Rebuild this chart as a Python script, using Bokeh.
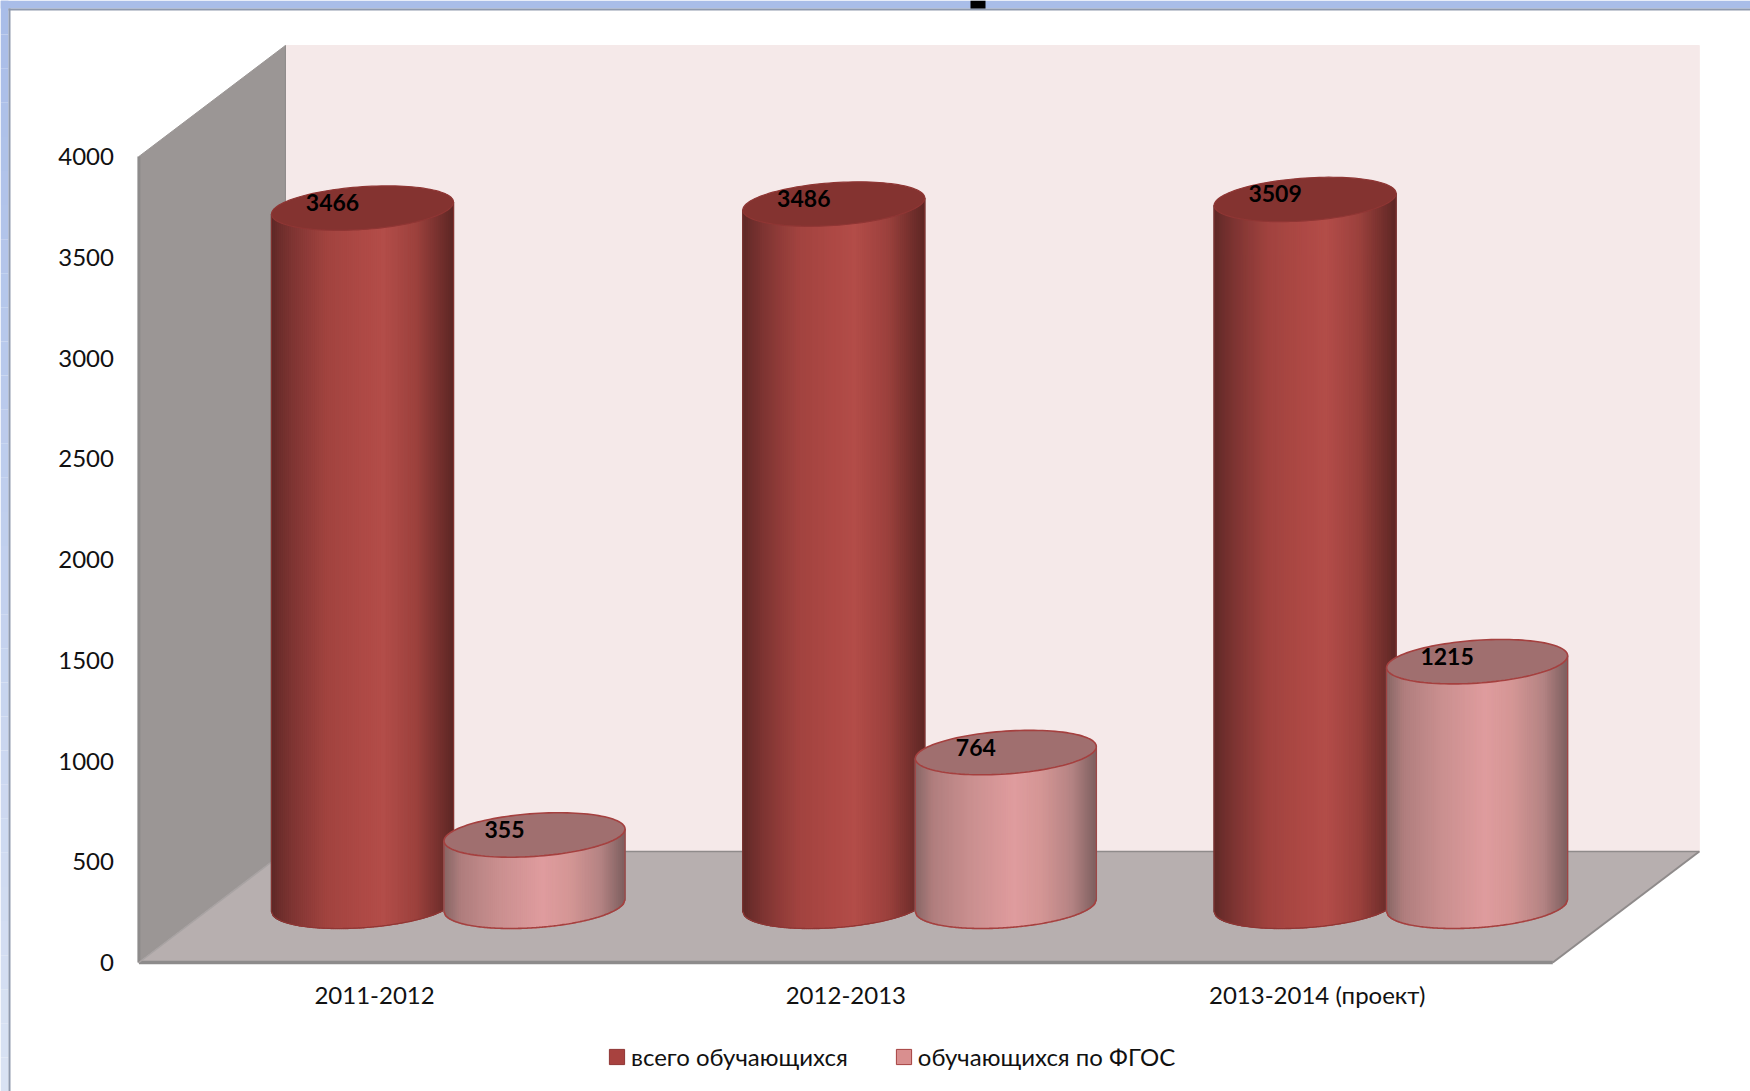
from bokeh.plotting import figure
from bokeh.models import Range1d, FixedTicker, Legend, LegendItem, BoxAnnotation
from bokeh.embed import file_html
from bokeh.resources import INLINE
from bokeh.core.properties import value
import numpy as np

# ---- data
categories = ["2011-2012", "2012-2013", "2013-2014 (проект)"]
total_students = [3466, 3486, 3509]
fgos_students = [355, 764, 1215]
series_names = ["всего обучающихся", "обучающихся по ФГОС"]
y_ticks = [0, 500, 1000, 1500, 2000, 2500, 3000, 3500, 4000]

# ---- layout (pixels of the page)
W, H = 1750, 1091
X0_PX, Y0_PX = 138.4, 962
GROUP_PX = 471.3
VALUE_PX = 0.2015
xu = 1 / GROUP_PX      # group units per pixel
yu = 1 / VALUE_PX      # value units per pixel
DEPTH_X, DEPTH_Y = 146.5 * xu, 111 * yu
Y_MAX = 4000
BASE_Y = 57 * yu       # cylinder base is set back on the floor
TOP_SHIFT = 1 * yu
RED_OFF, PINK_OFF = (362 - X0_PX) * xu, (534 - X0_PX) * xu
RED_A, PINK_A = 91, 90.5
ELL_B, ELL_B_TOP, ELL_C = 22.2, 21.4, 6.0

p = figure(width=W, height=H, output_backend="svg", toolbar_location=None,
           x_range=Range1d(-X0_PX * xu, (W - X0_PX) * xu),
           y_range=Range1d((Y0_PX - H) * yu, Y0_PX * yu),
           min_border_left=0, min_border_right=0, min_border_top=0, min_border_bottom=0,
           border_fill_color="white", background_fill_color="white", outline_line_color=None)
p.styles = {"position": "absolute", "left": "0px", "top": "0px"}
p.xgrid.visible = False
p.ygrid.visible = False

FONT = "Lato"
for ax in (p.xaxis[0], p.yaxis[0]):
    ax.fixed_location = 0
    ax.axis_line_color = None
    ax.major_tick_line_color = None
    ax.minor_tick_line_color = None
    ax.major_label_text_font = FONT
    ax.major_label_text_font_size = "24px"
    ax.major_label_text_color = "#111111"
p.yaxis[0].ticker = FixedTicker(ticks=y_ticks)
p.yaxis[0].major_label_standoff = 19
p.xaxis[0].ticker = FixedTicker(ticks=[i + 0.5 for i in range(len(categories))])
p.xaxis[0].major_label_overrides = {i + 0.5: c for i, c in enumerate(categories)}
p.xaxis[0].major_label_standoff = 11

# ---- walls and floor
n = len(categories)
p.patch([DEPTH_X, n + DEPTH_X, n + DEPTH_X, DEPTH_X],
        [DEPTH_Y, DEPTH_Y, Y_MAX + DEPTH_Y, Y_MAX + DEPTH_Y],
        fill_color="#f5e9e9", line_color="#f5e9e9")
p.patch([0, DEPTH_X, DEPTH_X, 0], [0, DEPTH_Y, Y_MAX + DEPTH_Y, Y_MAX],
        fill_color="#9b9695", line_color="#9b9695")
p.patch([0, n, n + DEPTH_X, DEPTH_X], [0, 0, DEPTH_Y, DEPTH_Y],
        fill_color="#b7afaf", line_color="#b7afaf")
p.line([0, 0], [0, Y_MAX], line_color="#8d8b8b", line_width=3)
p.line([0, n], [0, 0], line_color="#8d8b8b", line_width=3.5)
p.line([DEPTH_X, n + DEPTH_X], [DEPTH_Y, DEPTH_Y], line_color="#8f8b8b", line_width=1.5)
p.line([n, n + DEPTH_X], [0, DEPTH_Y], line_color="#8f8b8b", line_width=2)
p.line([0, DEPTH_X], [0, DEPTH_Y], line_color="#a8a3a3", line_width=1.5)
p.line([DEPTH_X, DEPTH_X], [DEPTH_Y, Y_MAX + DEPTH_Y], line_color="#908b8b", line_width=1)

# ---- cylinders
RED_STOPS = ([0, .05, .12, .3, .5, .62, .8, .93, 1],
             ["#5b2826", "#6d2e2c", "#7f3533", "#a1433f", "#ae4945", "#b34d49", "#9c413d", "#74302d", "#5e2725"])
PINK_STOPS = ([0, .1, .3, .55, .7, .87, 1],
              ["#866564", "#b07e7e", "#c98f8f", "#df9c9e", "#d49695", "#b48383", "#7e5f5f"])

def hex_rgb(h):
    return [int(h[i:i + 2], 16) for i in (1, 3, 5)]

def ramp(stops, t):
    pos, cols = stops
    rgb = np.array([hex_rgb(c) for c in cols])
    r = [int(round(np.interp(t, pos, rgb[:, k]))) for k in range(3)]
    return "#%02x%02x%02x" % tuple(r)

def cylinder(center, val, half_px, stops, top_color, edge, edge_w):
    a = half_px * xu
    b_base, b_top = BASE_Y, BASE_Y + val - TOP_SHIFT
    us = np.linspace(-1, 1, 92)
    xs, ys, cols = [], [], []
    low = lambda u: b_base - (ELL_B * np.sqrt(np.clip(1 - u * u, 0, 1)) - ELL_C * u) * yu
    high = lambda u: b_top + ELL_C * u * yu
    for u0, u1 in zip(us[:-1], us[1:]):
        xs.append([center + a * u0, center + a * u1, center + a * u1, center + a * u0])
        ys.append([low(u0), low(u1), high(u1), high(u0)])
        c = ramp(stops, (0.5 * (u0 + u1) + 1) / 2)
        cols.append(c)
    p.patches(xs, ys, fill_color=cols, line_color=cols, line_width=1.5)
    fine = np.linspace(-1, 1, 121)
    p.line(list(center + a * fine), list(low(fine)), line_color=edge, line_width=edge_w)
    p.line([center - a] * 2, [low(-1), high(-1)], line_color=edge, line_width=edge_w * 0.6)
    p.line([center + a] * 2, [low(1), high(1)], line_color=edge, line_width=edge_w * 0.6)
    t = np.linspace(0, 2 * np.pi, 121)
    ex = center + a * np.cos(t)
    ey = b_top - (ELL_B_TOP * np.sin(t) - ELL_C * np.cos(t)) * yu
    p.patch(list(ex), list(ey), fill_color=top_color, line_color=edge, line_width=edge_w)

LABEL_X, LABEL_Y = -30 * xu, 4.5 * yu
for i in range(n):
    cylinder(i + RED_OFF, total_students[i], RED_A, RED_STOPS, "#843330", "#8f3634", 1.2)
for i in range(n):
    cylinder(i + PINK_OFF, fgos_students[i], PINK_A, PINK_STOPS, "#a06f6f", "#a5403f", 1.6)

lx = [i + RED_OFF + LABEL_X for i in range(n)] + [i + PINK_OFF + LABEL_X for i in range(n)]
vals = total_students + fgos_students
ly = [v + BASE_Y + LABEL_Y for v in vals]
p.text(lx, ly, text=[str(v) for v in vals], text_font=value(FONT), text_font_style="bold",
       text_font_size="23px", text_align="center", text_baseline="middle", text_color="#000000")

# ---- legend (its two keys come from quads that lie outside the visible range)
OFF = Y0_PX * yu * 10
r1 = p.quad(left=[0], right=[1], top=[OFF + 1], bottom=[OFF], fill_color="#a8423f", line_color="#8f3634")
r2 = p.quad(left=[0], right=[1], top=[OFF + 1], bottom=[OFF], fill_color="#d98f8f", line_color="#a5403f")
leg = Legend(items=[LegendItem(label=series_names[0], renderers=[r1]),
                    LegendItem(label=series_names[1], renderers=[r2])],
             orientation="horizontal", location=(607, 20), background_fill_alpha=0,
             border_line_color=None, padding=0, margin=0, spacing=46, label_standoff=5,
             glyph_width=19, glyph_height=19, label_text_font=FONT, label_text_font_size="24px",
             label_text_color="#111111")
p.add_layout(leg)

# ---- window frame of the original screenshot
def canvas_box(l, r, t, b, col):
    p.add_layout(BoxAnnotation(left=l, right=r, top=t, bottom=b, left_units="canvas", right_units="canvas",
                               top_units="canvas", bottom_units="canvas", fill_color=col, fill_alpha=1,
                               line_color=None, level="overlay"))

steps = 32
for k in range(steps):
    t0, t1 = H * k / steps, H * (k + 1) / steps
    canvas_box(0, 8, t0, t1, ramp(([0, 1], ["#a9bde8", "#d9e2f3"]), k / (steps - 1)))
canvas_box(0, W, 0, 8, "#a9bde8")
canvas_box(8, W, 8, 10, "#8f9aae")
canvas_box(8, 10, 8, H, "#8f9aae")
canvas_box(970, 985, 0, 8, "#000000")

open("out.html", "w").write(file_html(p, INLINE))
